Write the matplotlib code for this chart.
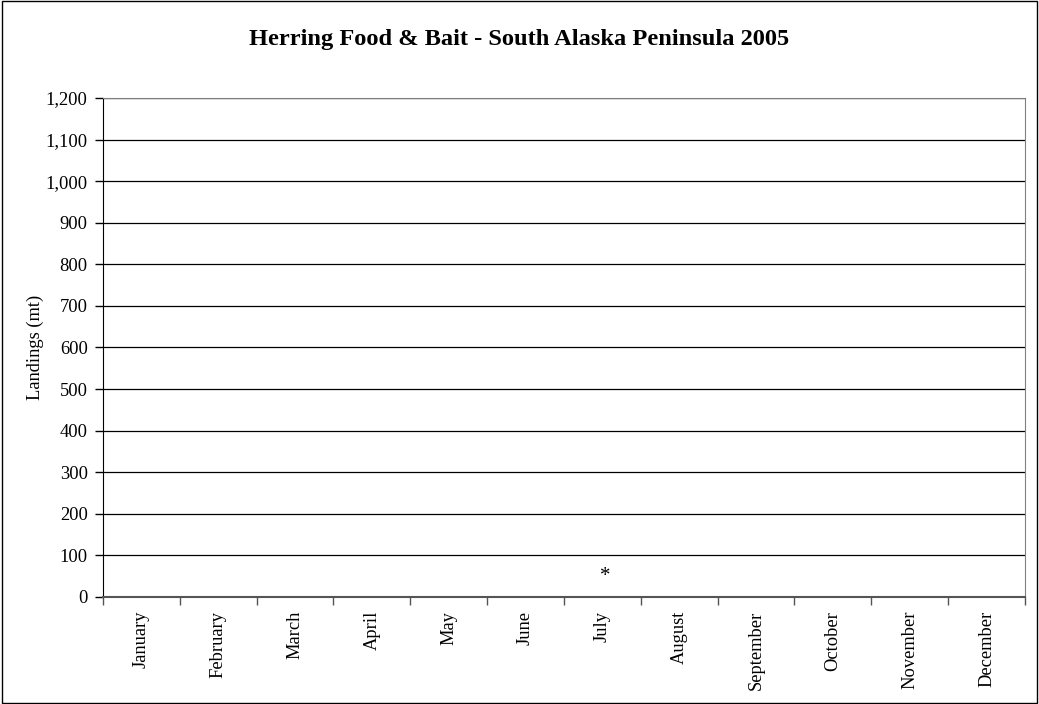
import matplotlib
matplotlib.use("Agg")
import matplotlib.pyplot as plt
from matplotlib.patches import Rectangle
import numpy as np

months = ["January", "February", "March", "April", "May", "June", "July",
          "August", "September", "October", "November", "December"]
landings = [0, 0, 0, 0, 0, 0, 0, 0, 0, 0, 0, 0]
confidential = ["", "", "", "", "", "", "*", "", "", "", "", ""]
yticks = list(range(0, 1201, 100))
title = "Herring Food & Bait - South Alaska Peninsula 2005"

plt.rcParams['font.family'] = ['Liberation Serif', 'DejaVu Serif']

fig = plt.figure(figsize=(10.39, 7.04), dpi=100)
fig.patches.append(Rectangle((0.0015, 0.002), 0.997, 0.996, transform=fig.transFigure,
                             fill=False, edgecolor='black', linewidth=1.0))
ax = fig.add_axes([0.0991, 0.152, 0.8874, 0.7088])

x = np.arange(len(months))
ax.bar(x, landings, width=0.6, color='#000080')
for xi, lab in zip(x, confidential):
    if lab:
        ax.text(xi + 0.04, 50, lab, ha='center', va='center', fontsize=15)

ax.set_xlim(-0.5, len(months) - 0.5)
ax.set_ylim(0, 1200)
ax.set_yticks(yticks)
ax.set_yticklabels([f"{v:,}" for v in yticks], fontsize=13.3)
ax.yaxis.grid(True, color='black', linewidth=0.9)
ax.set_axisbelow(True)

ax.set_xticks(x)
ax.set_xticklabels(months, rotation=90, fontsize=13.3)
ax.tick_params(axis='x', which='major', length=0, pad=10)
ax.set_xticks(np.arange(-0.5, len(months), 1.0), minor=True)
ax.tick_params(axis='x', which='minor', length=6, width=1, color='#555555')
ax.tick_params(axis='y', length=6, width=1, pad=5)

for s in ['top', 'right']:
    ax.spines[s].set_color('#808080')
ax.spines['left'].set_color('black')
ax.spines['bottom'].set_color('#555555')
ax.spines['bottom'].set_linewidth(1.5)

ax.set_ylabel("Landings (mt)", fontsize=13.3, labelpad=1)
fig.text(0.4995, 0.944, title, ha='center', va='center', fontsize=17.6, fontweight='bold')

fig.savefig("out.png", dpi=100)
